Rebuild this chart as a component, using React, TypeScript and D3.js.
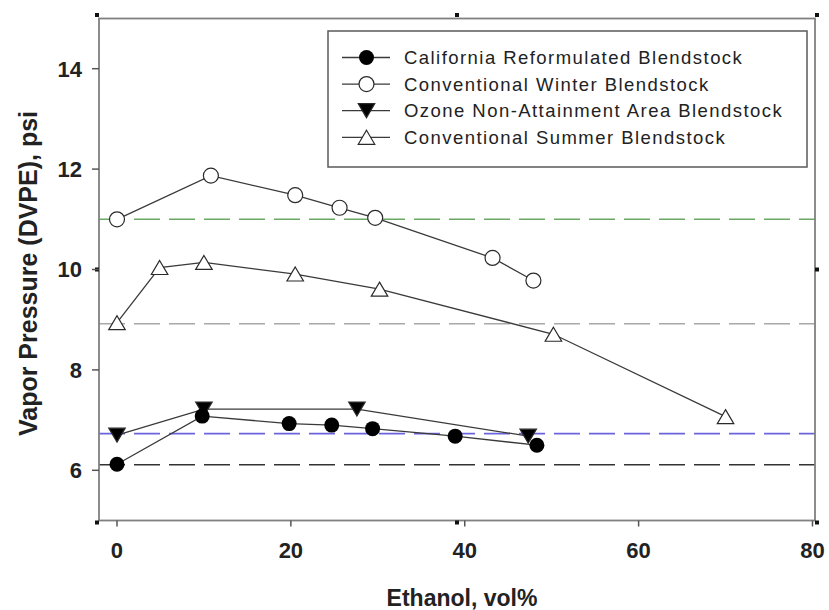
import React from 'react';
import * as d3 from 'd3';

const width = 829;
const height = 610;
const frame = { left: 99, right: 815, top: 18.5, bottom: 520.5 };

// series data (ethanol vol%, DVPE psi)
const caX = [0, 9.8, 19.8, 24.7, 29.4, 38.9, 48.3];
const caY = [6.12, 7.08, 6.93, 6.9, 6.83, 6.68, 6.5];
const winterX = [0, 10.8, 20.5, 25.6, 29.7, 43.2, 47.9];
const winterY = [11.0, 11.87, 11.48, 11.23, 11.03, 10.23, 9.78];
const ozoneX = [0, 10, 27.6, 47.3];
const ozoneY = [6.7, 7.22, 7.22, 6.68];
const summerX = [0, 4.9, 10, 20.5, 30.2, 50.2, 70];
const summerY = [8.94, 10.04, 10.14, 9.91, 9.61, 8.71, 7.07];

const refY = [11.0, 8.92, 6.73, 6.11];
const refColors = ['#6aa864', '#a8a8a8', '#6c64dc', '#333333'];

const xTicks = [0, 20, 40, 60, 80];
const yTicks = [6, 8, 10, 12, 14];

const seriesNames = [
  'California Reformulated Blendstock',
  'Conventional Winter Blendstock',
  'Ozone Non-Attainment Area Blendstock',
  'Conventional Summer Blendstock',
];

type Kind = 'dot' | 'ring' | 'down' | 'up';

const Marker = ({ kind, x, y }: { kind: Kind; x: number; y: number }) => {
  const stroke = '#2a2a2a';
  if (kind === 'dot') return <circle cx={x} cy={y} r={7.5} fill="#000" />;
  if (kind === 'ring')
    return <circle cx={x} cy={y} r={7.5} fill="#fff" stroke={stroke} strokeWidth={1.2} />;
  const w = 16.5;
  const h = 14;
  const d =
    kind === 'up'
      ? `M0,${-h / 2}L${w / 2},${h / 2}L${-w / 2},${h / 2}Z`
      : `M0,${h / 2}L${w / 2},${-h / 2}L${-w / 2},${-h / 2}Z`;
  return (
    <path
      d={d}
      transform={`translate(${x},${y})`}
      fill={kind === 'down' ? '#000' : '#fff'}
      stroke={stroke}
      strokeWidth={1.2}
    />
  );
};

export default function App() {
  const x = d3.scaleLinear().domain([-2.07, 80.29]).range([frame.left, frame.right]);
  const y = d3.scaleLinear().domain([5, 15]).range([frame.bottom, frame.top]);

  const series: { xs: number[]; ys: number[]; kind: Kind }[] = [
    { xs: summerX, ys: summerY, kind: 'up' },
    { xs: winterX, ys: winterY, kind: 'ring' },
    { xs: ozoneX, ys: ozoneY, kind: 'down' },
    { xs: caX, ys: caY, kind: 'dot' },
  ];
  const legendKinds: Kind[] = ['dot', 'ring', 'down', 'up'];

  const line = d3
    .line<[number, number]>()
    .x((d) => x(d[0]))
    .y((d) => y(d[1]));

  const handlesX = [frame.left - 2, (frame.left + frame.right) / 2, frame.right + 2];
  const handlesY = [frame.top - 3.5, (frame.top + frame.bottom) / 2, frame.bottom + 2];

  const font = 'Arial, "Liberation Sans", Helvetica, sans-serif';

  return (
    <svg
      width={width}
      height={height}
      style={{ position: 'absolute', left: 0, top: 0, background: '#fff' }}
      fontFamily={font}
    >
      <rect width={width} height={height} fill="#fff" />

      {/* reference lines */}
      {refY.map((v, i) => (
        <line
          key={i}
          x1={frame.left}
          x2={frame.right}
          y1={y(v)}
          y2={y(v)}
          stroke={refColors[i]}
          strokeWidth={1.6}
          strokeDasharray="26 9"
        />
      ))}

      {/* series lines */}
      {series.map((s, i) => (
        <path
          key={i}
          d={line(s.xs.map((v, j) => [v, s.ys[j]] as [number, number])) || ''}
          fill="none"
          stroke="#3a3a3a"
          strokeWidth={1.3}
        />
      ))}
      {series.map((s, i) => (
        <g key={i}>
          {s.xs.map((v, j) => (
            <Marker key={j} kind={s.kind} x={x(v)} y={y(s.ys[j])} />
          ))}
        </g>
      ))}

      {/* frame */}
      <rect
        x={frame.left}
        y={frame.top}
        width={frame.right - frame.left}
        height={frame.bottom - frame.top}
        fill="none"
        stroke="#808080"
        strokeWidth={1.8}
      />
      {handlesX.map((hx) =>
        handlesY.map((hy) =>
          hx === handlesX[1] && hy === handlesY[1] ? null : (
            <rect key={`${hx}-${hy}`} x={hx - 2} y={hy - 2} width={4} height={4} fill="#111" />
          )
        )
      )}

      {/* x axis ticks */}
      {xTicks.map((t) => (
        <g key={t} transform={`translate(${x(t)},0)`}>
          <line y1={frame.bottom} y2={frame.bottom + 6} stroke="#555" strokeWidth={1.5} />
          <text
            y={frame.bottom + 37}
            textAnchor="middle"
            fontSize={22}
            fontWeight="bold"
            fill="#222"
          >
            {t}
          </text>
        </g>
      ))}

      {/* y axis ticks */}
      {yTicks.map((t) => (
        <g key={t} transform={`translate(0,${y(t)})`}>
          <line x1={frame.left - 7} x2={frame.left} stroke="#555" strokeWidth={1.5} />
          <text
            x={82}
            dy="0.36em"
            textAnchor="end"
            fontSize={22}
            fontWeight="bold"
            fill="#222"
          >
            {t}
          </text>
        </g>
      ))}

      {/* axis titles */}
      <text
        x={462}
        y={606}
        textAnchor="middle"
        fontSize={23}
        fontWeight="bold"
        fill="#222"
      >
        Ethanol, vol%
      </text>
      <text
        transform={`translate(37,${(frame.top + frame.bottom) / 2 + 4}) rotate(-90)`}
        textAnchor="middle"
        fontSize={25}
        fontWeight="bold"
        fill="#222"
      >
        Vapor Pressure (DVPE), psi
      </text>

      {/* legend */}
      <rect x={328} y={31} width={479} height={136} fill="#fff" stroke="#5a5a5a" strokeWidth={1.5} />
      {seriesNames.map((name, i) => {
        const ly = 57.5 + i * 26.6;
        return (
          <g key={name}>
            <line x1={342} x2={390} y1={ly} y2={ly} stroke="#3a3a3a" strokeWidth={1.3} />
            <Marker kind={legendKinds[i]} x={366.5} y={ly} />
            <text
              x={404}
              y={ly}
              dy="0.36em"
              fontSize={18.5}
              letterSpacing={1.45}
              fill="#222"
            >
              {name}
            </text>
          </g>
        );
      })}
    </svg>
  );
}
